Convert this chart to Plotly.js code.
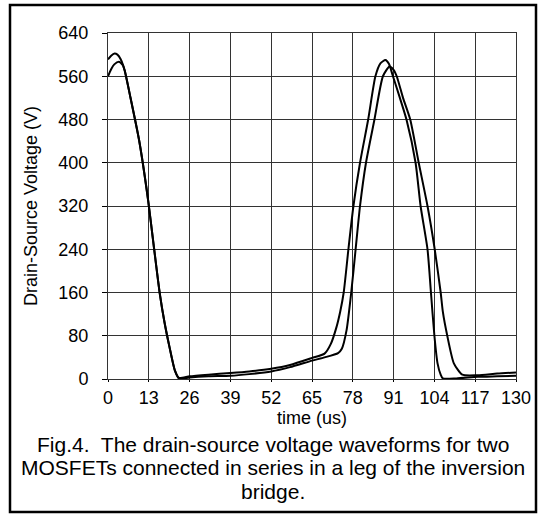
<!DOCTYPE html>
<html>
<head>
<meta charset="utf-8">
<script src="https://cdn.plot.ly/plotly-3.0.1.min.js"></script>
<style>
html,body{margin:0;padding:0;background:#fff;}
#chart{width:546px;height:518px;}
</style>
</head>
<body>
<div id="chart"></div>
<script>
// Waveform of the first MOSFET (higher initial peak, earlier rise)
const timeA = [0,1,2.1,3,4,5.3,7,9.9,12.8,14.5,16.5,18,19.6,21.3,22.6,26,32,39,45,52,58,65,69,71,72.8,74,75.1,76.6,78.2,80.3,82.9,85.2,86.8,88.4,89.5,90.8,93,95.1,98,99.6,101.8,102.9,104,105,106,106.7,111,117.8,124,130];
const voltA = [591,598,602,600,592,571,525,442,330,250,158,105,59,16,2,5,8,11,14,19,26,39,47,65,96,125,160,240,320,400,480,560,584,590,583,560,520,480,400,320,240,160,80,29,8,1,1,4,5,6];
// Waveform of the second MOSFET
const timeB = [0,1,2,3.5,4.8,5.3,7,9.9,12.8,14.5,16.5,18,19.6,21.3,22.6,26,32,39,45,52,58,65,69,73.3,74.5,76,77.5,78.9,80.3,82.2,84.9,87.6,89.7,91,92,94,96.3,99,101.8,104.1,106,106.7,108.1,110.2,112.9,117.8,124,130];
const voltB = [560,573,582,587,580,571,525,442,330,250,158,105,59,16,1,3,5,6,9,14,22,34,40,48,56,90,160,240,320,400,480,560,578,572,560,520,480,400,320,240,160,124,80,29,8,7,10,12];

const xTicks = [0,13,26,39,52,65,78,91,104,117,130];
const yTicks = [0,80,160,240,320,400,480,560,640];

const xTitle = 'time (us)';
const yTitle = 'Drain-Source Voltage (V)';
const captionLines = [
  'Fig.4.  The drain-source voltage waveforms for two',
  'MOSFETs connected in series in a leg of the inversion',
  'bridge.'
];

const FONT = 'Liberation Sans, Arial, sans-serif';
const lineStyle = {color:'#000', width:2, shape:'spline', smoothing:0.6};

const traces = [
  {x: timeA, y: voltA, mode:'lines', line: lineStyle, hoverinfo:'skip'},
  {x: timeB, y: voltB, mode:'lines', line: lineStyle, hoverinfo:'skip'}
];

const axisCommon = {
  showgrid: true, gridcolor:'#333', gridwidth:1,
  showline: true, linecolor:'#333', linewidth:1, mirror:true,
  zeroline:false, ticks:'outside', ticklen:5, tickcolor:'#000', tickwidth:1,
  tickfont:{family:FONT, size:18, color:'#000'}
};

// caption line centres (pixels from top) converted to paper coordinates
const PLOT_TOP = 33, PLOT_H = 346, PLOT_L = 108, PLOT_W = 408;
const capY = [444, 467, 491];
const annotations = captionLines.map((t, i) => ({
  xref:'paper', yref:'paper', x:(273-PLOT_L)/PLOT_W, y:(PLOT_TOP+PLOT_H-capY[i])/PLOT_H,
  xanchor:'center', yanchor:'middle', showarrow:false,
  text:t, font:{family:FONT, size:21, color:'#000'}
}));

const layout = {
  width:546, height:518,
  margin:{l:PLOT_L, r:30, t:PLOT_TOP, b:139},
  paper_bgcolor:'#fff', plot_bgcolor:'#fff',
  showlegend:false,
  font:{family:FONT, color:'#000'},
  xaxis: Object.assign({}, axisCommon, {
    range:[0,130], tickmode:'array', tickvals:xTicks, ticktext:xTicks.map(String),
    ticklen:2,
    title:{text:xTitle, font:{family:FONT, size:18, color:'#000'}, standoff:0}
  }),
  yaxis: Object.assign({}, axisCommon, {
    range:[0,640], tickmode:'array', tickvals:yTicks, ticktext:yTicks.map(String),
    ticklabelstandoff:10,
    title:{text:yTitle, font:{family:FONT, size:18, color:'#000'}, standoff:16}
  }),
  annotations: annotations,
  shapes:[{
    type:'rect', xref:'paper', yref:'paper',
    x0:(10-PLOT_L)/PLOT_W, x1:(536-PLOT_L)/PLOT_W, y0:(PLOT_TOP+PLOT_H-512)/PLOT_H, y1:(PLOT_TOP+PLOT_H-5)/PLOT_H,
    line:{color:'#000', width:2.5}, fillcolor:'rgba(0,0,0,0)', layer:'above'
  }]
};

Plotly.newPlot('chart', traces, layout, {displayModeBar:false, staticPlot:true});
</script>
</body>
</html>
